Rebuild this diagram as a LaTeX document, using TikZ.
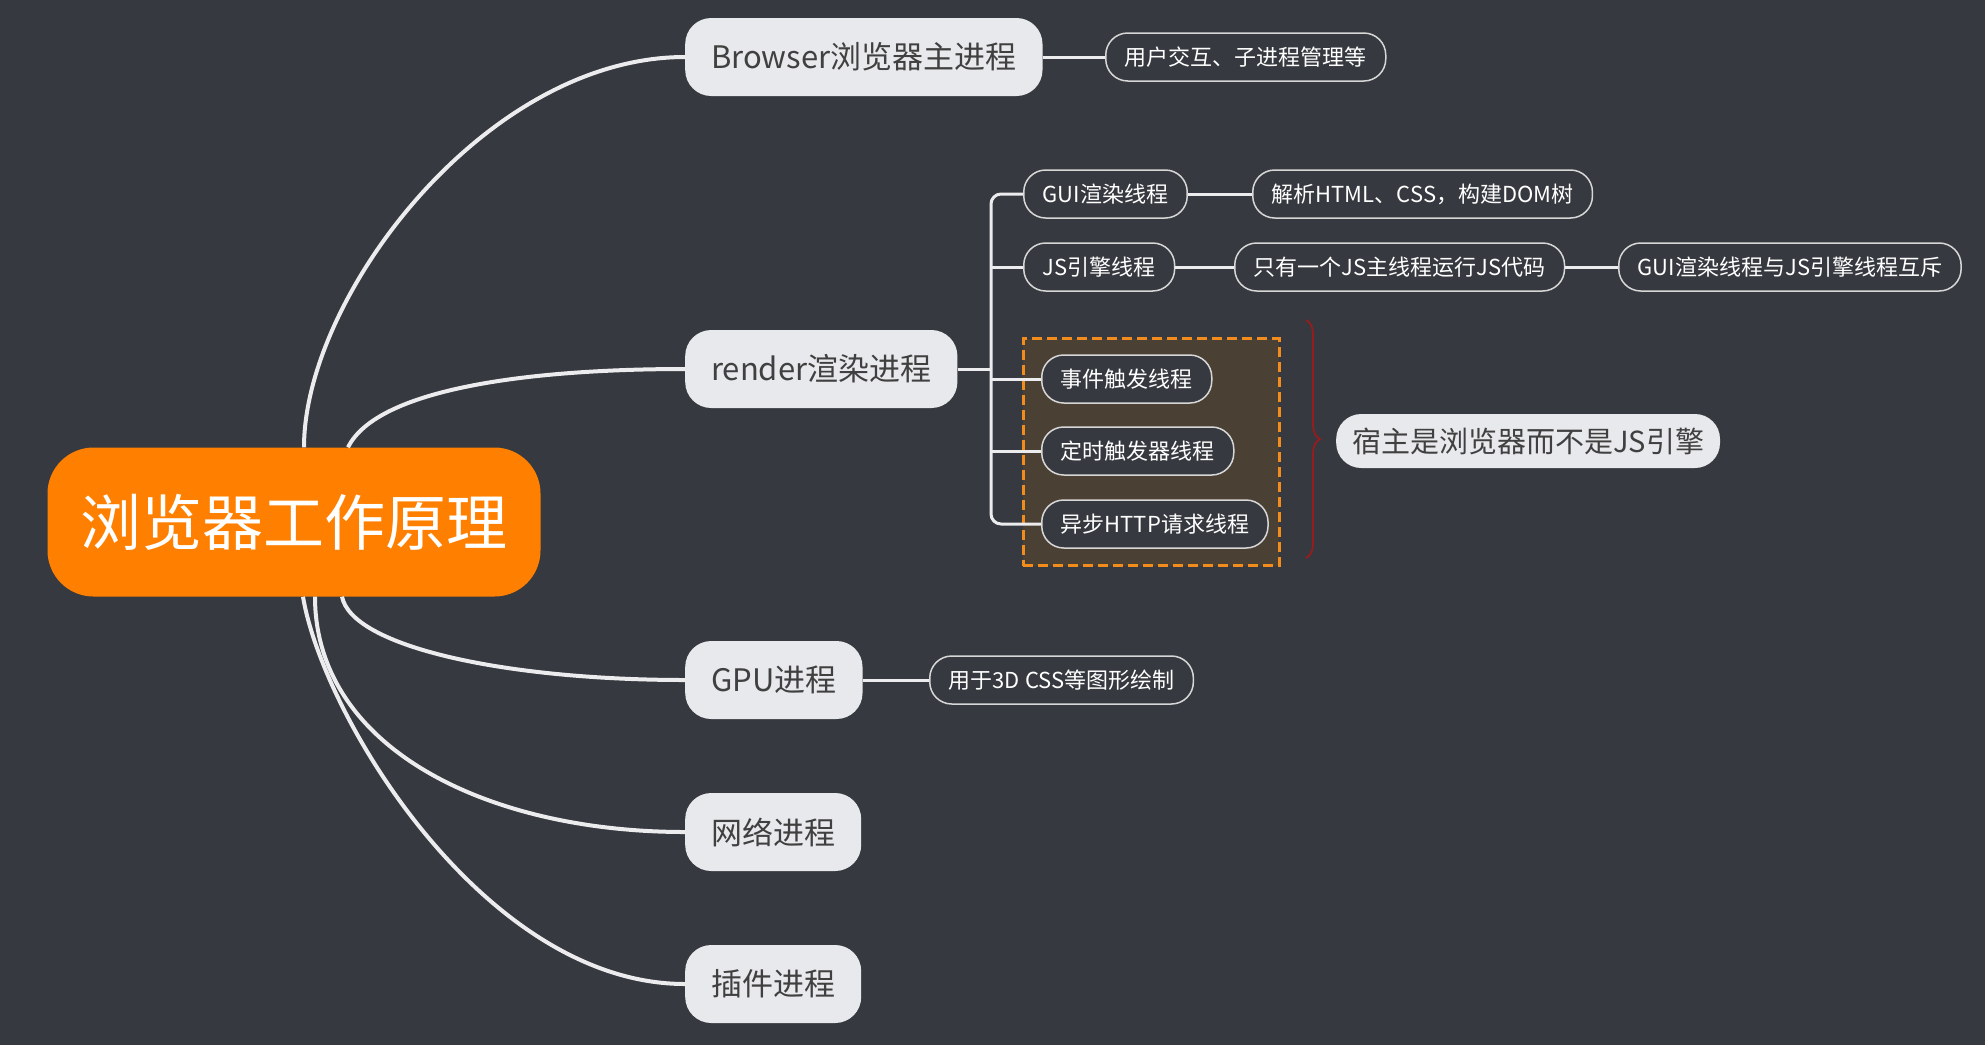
\documentclass[tikz,border=0pt]{standalone}
\usepackage{fontspec}
\setmainfont{Noto Sans CJK SC}
\usetikzlibrary{decorations.pathreplacing}
\definecolor{boardgray}{RGB}{54,57,63}
\definecolor{rootorange}{RGB}{255,128,0}
\definecolor{nodegray}{RGB}{232,233,236}
\definecolor{textgray}{RGB}{64,64,64}
\definecolor{linewhite}{RGB}{236,236,238}
\definecolor{leafline}{RGB}{215,215,215}
\definecolor{boxbrown}{RGB}{75,64,52}
\definecolor{dashorange}{RGB}{242,140,28}
\definecolor{bracered}{RGB}{150,28,30}

\begin{document}
\begin{tikzpicture}[x=1pt, y=-1pt,
  root/.style={rectangle, rounded corners=46pt, fill=rootorange, text=white, minimum width=493pt, minimum height=149pt, font=\fontsize{61}{70}\selectfont},
  proc/.style={rectangle, rounded corners=26pt, fill=nodegray, text=textgray, minimum height=78pt, inner xsep=26pt, anchor=west, font=\fontsize{31}{36}\selectfont},
  leaf/.style={rectangle, rounded corners=22pt, draw=leafline, line width=1.5pt, fill=boardgray, text=white, minimum height=48pt, inner xsep=19pt, anchor=west, font=\fontsize{22}{26}\selectfont},
  note/.style={proc, rounded corners=25pt, minimum height=54pt, inner xsep=16pt, font=\fontsize{29}{34}\selectfont},
  branch/.style={draw=linewhite, line width=4pt},
  twig/.style={draw=linewhite, line width=3pt},
  groupbox/.style={draw=dashorange, dash pattern=on 10pt off 5pt, line width=3pt, fill=boxbrown, minimum width=256pt, minimum height=227pt}
]
\useasboundingbox[fill=boardgray] (0,0) rectangle (1985,1045);

% group of the threads the browser hosts
\node[groupbox] (grp) at (1151,452) {};

\node[root] (root) at (294,522) {浏览器工作原理};

\node[proc] (browser) at (685,57) {Browser浏览器主进程};
\node[proc] (render) at (685,369) {render渲染进程};
\node[proc] (gpu) at (685,680) {GPU进程};
\node[proc] (net) at (685,832) {网络进程};
\node[proc] (plugin) at (685,984) {插件进程};

\node[leaf] (browserinfo) at (1105,57) {用户交互、子进程管理等};
\node[leaf] (gpuinfo) at (929,680) {用于3D CSS等图形绘制};

\node[leaf] (gui) at (1023,194) {GUI渲染线程};
\node[leaf] (parse) at (1252,194) {解析HTML、CSS，构建DOM树};
\node[leaf] (jsth) at (1023,267) {JS引擎线程};
\node[leaf] (single) at (1234,267) {只有一个JS主线程运行JS代码};
\node[leaf] (mutex) at (1618,267) {GUI渲染线程与JS引擎线程互斥};

\node[leaf] (event) at (1041,379) {事件触发线程};
\node[leaf] (timer) at (1041,451) {定时触发器线程};
\node[leaf] (http) at (1041,524) {异步HTTP请求线程};

\coordinate (btop) at (1306,320);
\coordinate (bbot) at (1306,558);
\node[note] (host) at (1336,441) {宿主是浏览器而不是JS引擎};

% main branches
\draw[branch] ([xshift=10pt]root.north) .. controls +(0,-150) and +(-200,0) .. (browser.west);
\draw[branch] ([xshift=54pt]root.north) .. controls +(30,-60) and +(-150,0) .. (render.west);
\draw[branch] ([xshift=48pt]root.south) .. controls +(10,50) and +(-180,0) .. (gpu.west);
\draw[branch] ([xshift=21pt]root.south) .. controls +(0,150) and +(-200,0) .. (net.west);
\draw[branch] ([xshift=9pt]root.south) .. controls +(20,120) and +(-200,0) .. (plugin.west);

% sub branches
\draw[twig] (browser) -- (browserinfo);
\draw[twig] (gpu) -- (gpuinfo);
\coordinate (fork) at (991,369);
\draw[twig] (render.east) -- (fork);
\draw[twig, rounded corners=10pt] (gui.west) -- (gui.west -| fork) -- (http.west -| fork) -- (http.west);
\foreach \n in {jsth,event,timer}
  \draw[twig] (\n.west -| fork) -- (\n.west);
\draw[twig] (gui) -- (parse);
\draw[twig] (jsth) -- (single);
\draw[twig] (single) -- (mutex);

\draw[bracered, line width=1.8pt, decorate, decoration={brace, amplitude=14pt}] (btop) -- (bbot);
\end{tikzpicture}
\end{document}
